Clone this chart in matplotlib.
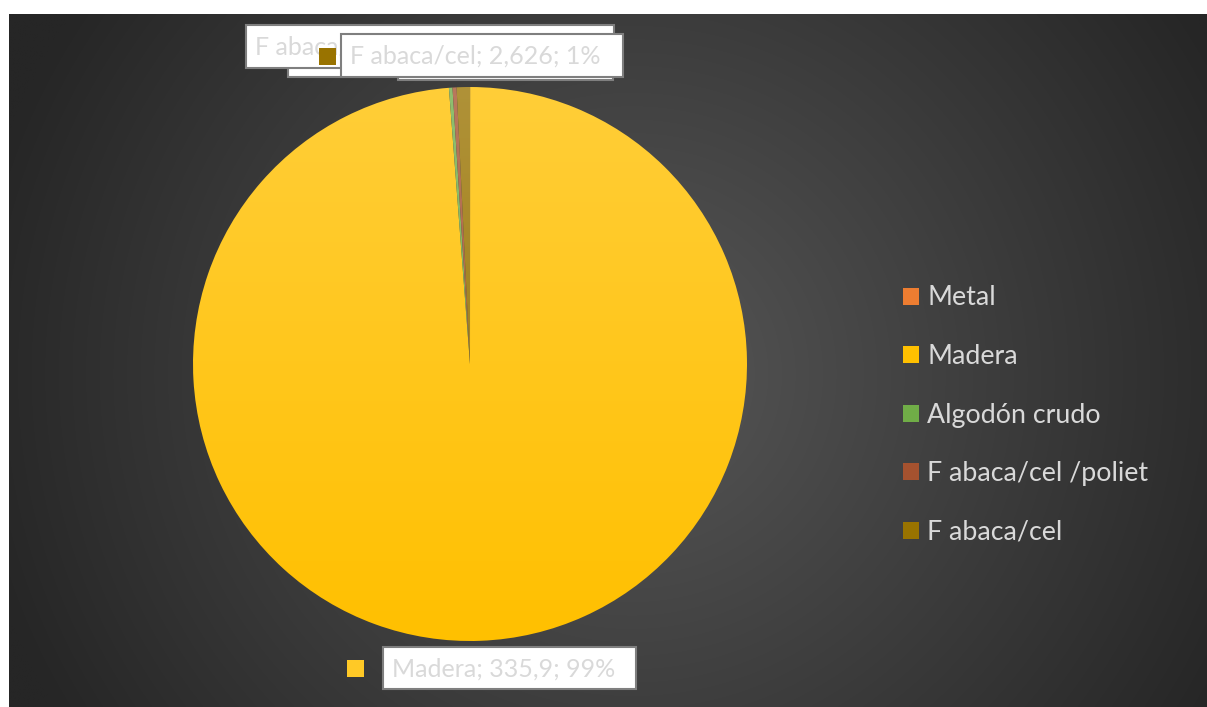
import numpy as np
import matplotlib.pyplot as plt
from matplotlib.colors import LinearSegmentedColormap, to_rgb
from matplotlib.patches import Rectangle, Patch

# datos
categorias = ['Metal', 'Madera', 'Algodón crudo', 'F abaca/cel /poliet', 'F abaca/cel']
valores = [0.03, 335.9, 0.7, 0.8, 2.626]
colores = ['#ED7D31', '#FFC000', '#70AD47', '#A5522F', '#997300']

W, H = 1207, 707
plt.rcParams['font.family'] = ['Lato', 'DejaVu Sans']

fig = plt.figure(figsize=(W / 100, H / 100), dpi=100, facecolor='white')

# fondo oscuro con degradado radial
bg = fig.add_axes([9 / W, 0, 1 - 9 / W, 1 - 14 / H])
yy, xx = np.mgrid[0:1:400j, 0:1:700j]
d = np.sqrt(((xx - 0.52) * 1.7) ** 2 + (yy - 0.52) ** 2)
d = np.clip(d / 0.95, 0, 1)
c0, c1 = np.array(to_rgb('#575757')), np.array(to_rgb('#262626'))
img = c0 + (c1 - c0) * d[..., None]
bg.imshow(img, extent=(0, 1, 0, 1), aspect='auto', interpolation='bilinear')
bg.set_axis_off()


def claro(c, f):
    c = np.array(to_rgb(c))
    return tuple(c + (1 - c) * f)


# pastel
R = 277
ax = fig.add_axes([(470 - R) / W, (H - 364 - R) / H, 2 * R / W, 2 * R / H])
ax.patch.set_alpha(0)
wedges, _ = ax.pie(valores, colors=colores, startangle=90, counterclock=False,
                   radius=1, wedgeprops=dict(linewidth=0))
grad = np.linspace(0, 1, 256)[:, None] * np.ones((1, 4))
for w, c in zip(wedges, colores):
    cmap = LinearSegmentedColormap.from_list('g', [c, claro(c, 0.22)])
    im = ax.imshow(grad, extent=(-1, 1, -1, 1), origin='lower', cmap=cmap,
                   aspect='auto', zorder=w.get_zorder())
    im.set_clip_path(w)
    w.set_facecolor('none')
ax.set_xlim(-1, 1)
ax.set_ylim(-1, 1)
ax.set_aspect('equal')
ax.set_axis_off()

# etiquetas de datos
total = sum(valores)


def texto(i):
    v = f"{valores[i]:g}".replace('.', ',')
    return f"{categorias[i]}; {v}; {round(valores[i] / total * 100):.0f}%"


ov = fig.add_axes([0, 0, 1, 1])
ov.set_xlim(0, W)
ov.set_ylim(H, 0)
ov.set_axis_off()
ov.patch.set_alpha(0)


def caja(x0, y0, x1, y1, s, z, key=None):
    r = Rectangle((x0, y0), x1 - x0, y1 - y0, fc='white', ec='#7f7f7f', lw=1.5, zorder=z)
    ov.add_patch(r)
    t = ov.text(x0 + 9, (y0 + y1) / 2 + 1, s, fontsize=18, color='#d9d9d9',
                va='center', ha='left', zorder=z + 0.1)
    t.set_clip_path(r)
    if key is not None:
        kx, ky, kc = key
        ov.add_patch(Rectangle((kx, ky), 17, 17, fc=kc, ec='none', zorder=z + 0.2))


caja(288, 34, 560, 77, texto(2), 2)
caja(398, 37, 613, 80, texto(0), 3)
caja(246, 25, 614, 68, texto(3), 4)
caja(341, 34, 623, 77, texto(4), 5, key=(319, 48, colores[4]))
caja(383, 647, 636, 689, texto(1), 6, key=(347, 660, claro(colores[1], 0.15)))

# leyenda
handles = [Patch(facecolor=c, edgecolor='none') for c in colores]
fig.legend(handles, categorias, loc='center left', bbox_to_anchor=(879 / W, (H - 415) / H),
           frameon=False, fontsize=19.3, labelcolor='#d9d9d9', handlelength=0.6,
           handleheight=0.6, handletextpad=0.3, labelspacing=1.25)

fig.savefig('out.png', dpi=100, facecolor='white')
